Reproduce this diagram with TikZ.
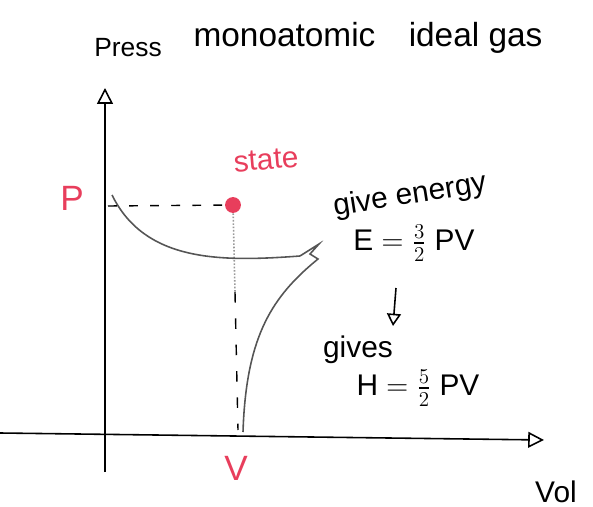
\documentclass[tikz,border=0pt]{standalone}
\usepackage{fontspec}
\setmainfont{Liberation Sans}
\usepackage{amsmath}
\definecolor{statered}{RGB}{232,62,92}
\definecolor{inkgray}{RGB}{85,85,85}
\usetikzlibrary{arrows.meta, positioning}

\begin{document}
\begin{tikzpicture}[x=0.02cm, y=-0.02cm,
    hand/.style={font=\fontsize{17}{20}\selectfont, inner sep=1pt},
    redhand/.style={hand, text=statered},
    axis/.style={line width=0.9pt, -{Triangle[open, length=9pt, width=9pt]}}]
  \useasboundingbox (0,0) rectangle (593,507);

  % axes
  \coordinate (o) at (105,437);
  \coordinate (ybot) at (105,472);
  \coordinate (ytop) at (105,88);
  \coordinate (xleft) at (0,433);
  \coordinate (xright) at (544,440);
  \draw[axis] (ybot) -- (ytop);
  \draw[axis] (xleft) -- (xright);

  \node[hand, font=\fontsize{15}{18}\selectfont] (press) at (128,48) {Press};
  \node[hand] (vol) at (556,492) {Vol};
  \node[hand, font=\fontsize{19}{22}\selectfont] (title) at (368,38) {monoatomic\quad ideal gas};

  % state point
  \node[circle, fill=statered, inner sep=3.2pt] (st) at (233,205) {};
  \node[redhand, rotate=5] (stlabel) at (266,160) {state};
  \node[redhand, font=\fontsize{20}{24}\selectfont] (plabel) at (72,198) {P};
  \node[redhand, font=\fontsize{20}{24}\selectfont] (vlabel) at (236,468) {V};
  \coordinate (pax) at (108,206);
  \coordinate (vmid) at (235,292);
  \coordinate (vax) at (238,430);
  \draw[dashed, line width=0.8pt, dash pattern=on 5pt off 7pt] (pax) -- (st);
  \draw[inkgray!60, densely dotted, line width=0.9pt] (st) -- (vmid);
  \draw[dashed, line width=0.8pt, dash pattern=on 6pt off 9pt] (vmid) -- (vax);

  % curve with hook
  \coordinate (c0) at (112,195);
  \coordinate (c1) at (300,256);
  \coordinate (c2) at (312,264);
  \coordinate (c3) at (243,432);
  \draw[inkgray, line width=0.9pt] (c0) .. controls (145,262) and (220,262) .. (c1);
  \draw[inkgray, line width=0.9pt] (c1) -- (319,244) -- (310,254) -- (318,259) -- (c2);
  \draw[inkgray, line width=0.9pt] (c2) .. controls (270,300) and (246,340) .. (c3);

  % right hand notes
  \node[hand, rotate=9] (give) at (410,196) {give energy};
  \node[hand] (eq1) at (414,243) {E $=\frac{3}{2}$ PV};
  \node[hand] (gives) at (358,350) {gives};
  \node[hand] (eq2) at (418,388) {H $=\frac{5}{2}$ PV};
  \coordinate (a0) at (396,288);
  \coordinate (a1) at (393,326);
  \draw[line width=0.9pt, -{Triangle[open, length=7pt, width=8pt]}] (a0) -- (a1);
\end{tikzpicture}
\end{document}
